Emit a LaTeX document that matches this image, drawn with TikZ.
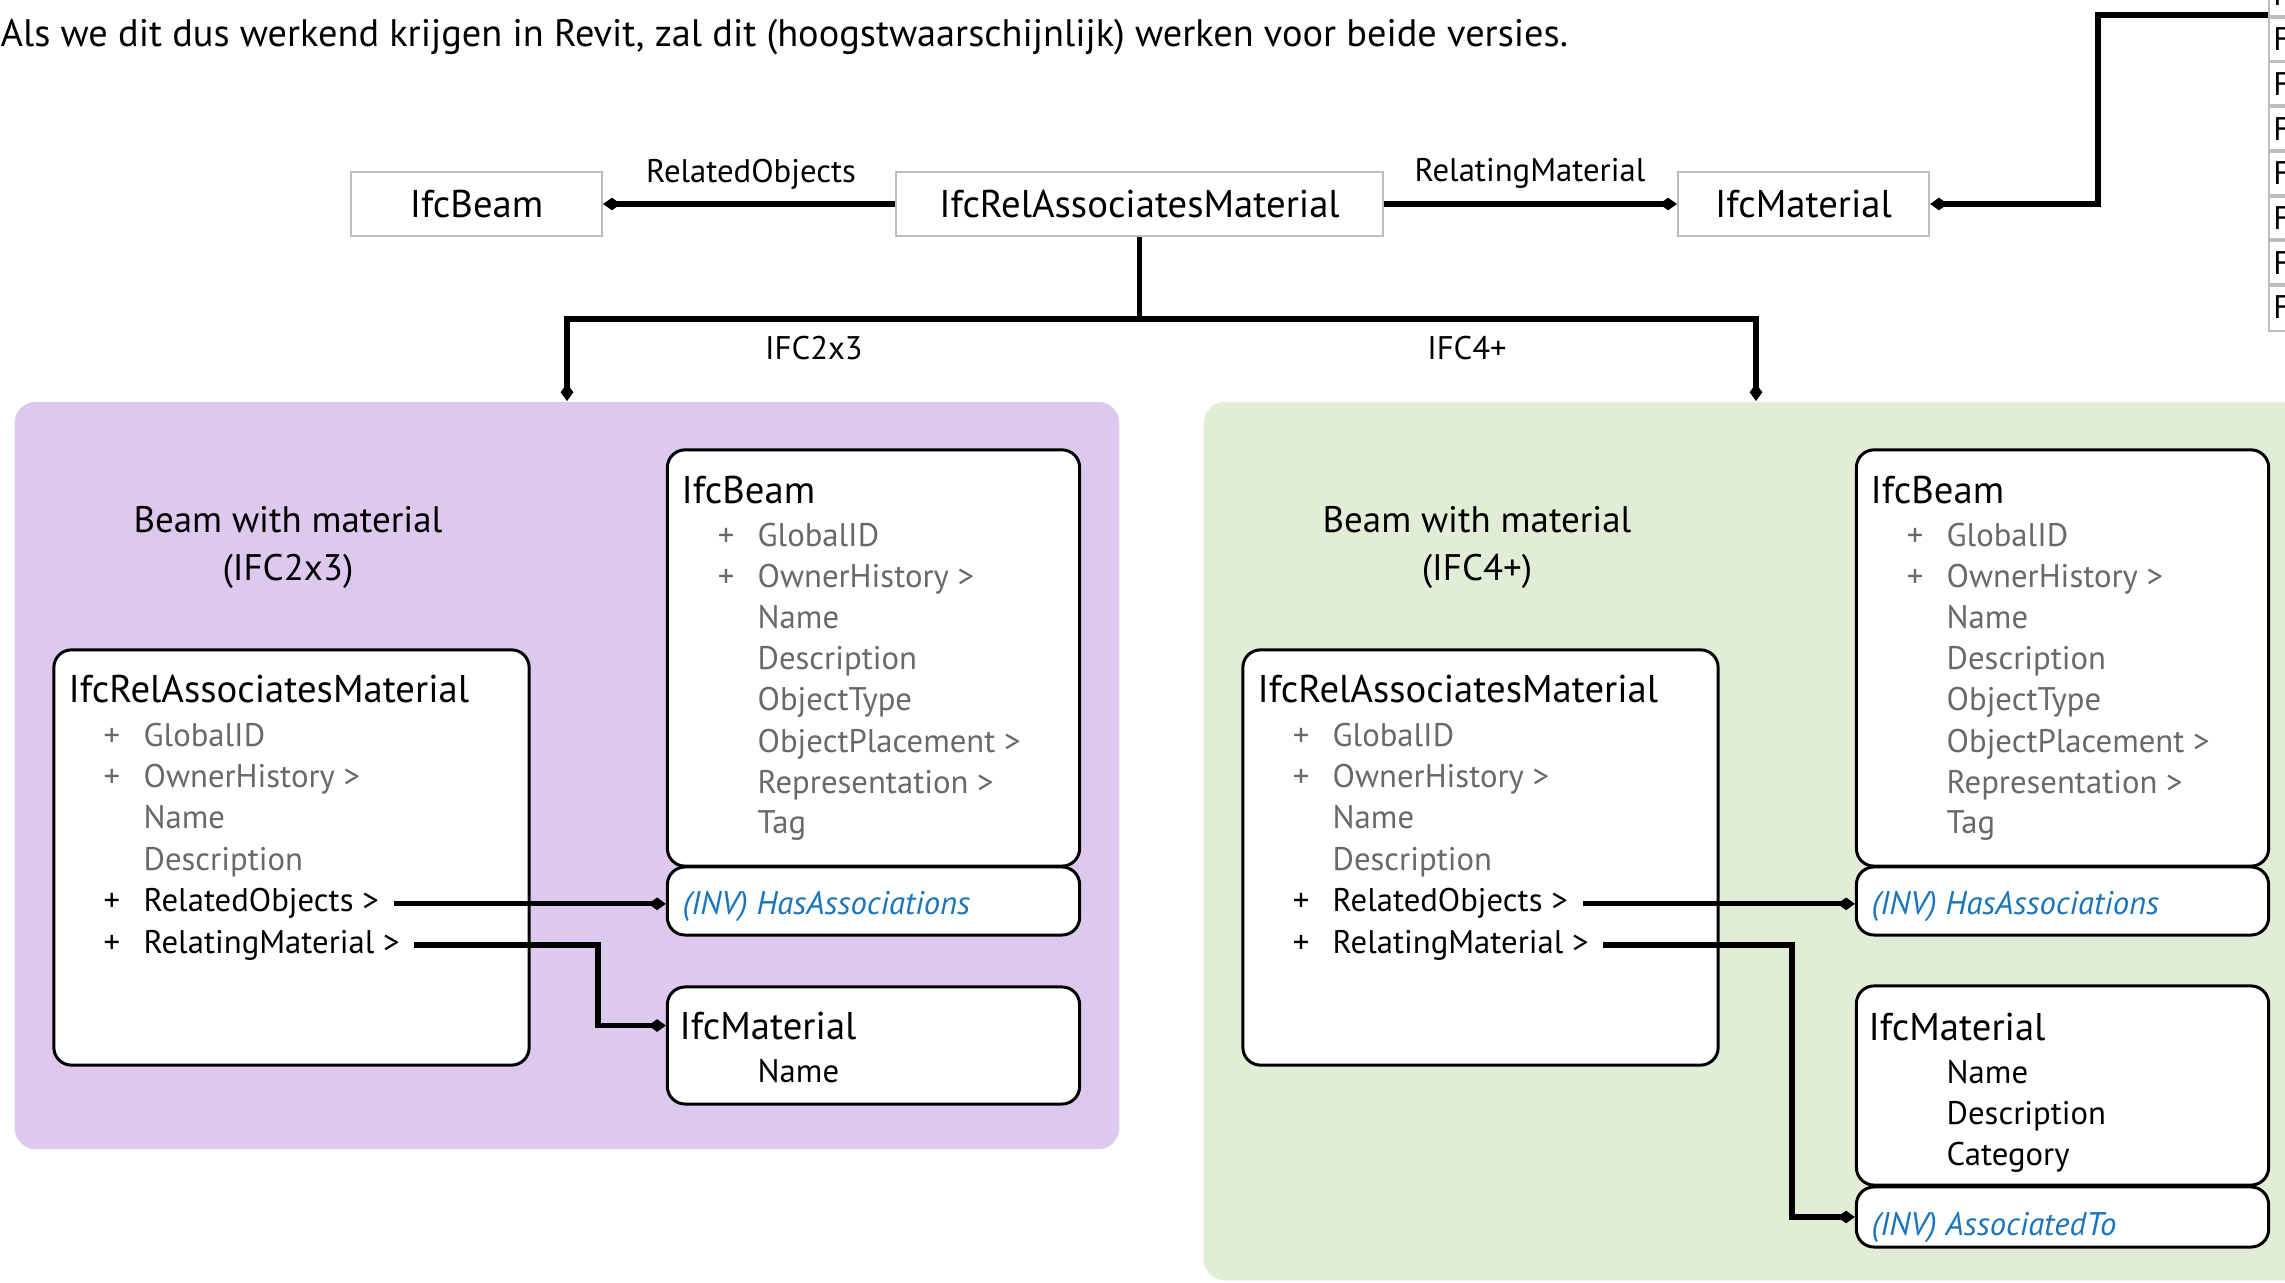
\documentclass[tikz,border=0pt]{standalone}
\usepackage{fontspec}
\setmainfont{PT Sans}
\usepackage{tikz}
\usetikzlibrary{arrows.meta,positioning}
\definecolor{lila}{RGB}{222,201,238}
\definecolor{mint}{RGB}{226,237,215}
\definecolor{attrgray}{RGB}{105,105,105}
\definecolor{invblue}{RGB}{27,117,188}
\definecolor{boxgray}{RGB}{190,190,190}
\def\fsTitle{\fontsize{11pt}{13pt}\selectfont}
\def\fsHead{\fontsize{10.5pt}{13pt}\selectfont}
\def\fsAttr{\fontsize{9.3pt}{11pt}\selectfont}
\def\fsText{\fontsize{9.3pt}{11pt}\selectfont}
\def\fsIntro{\fontsize{10.9pt}{13pt}\selectfont}
\tikzset{
  panel/.style={rounded corners=6pt, inner sep=0pt},
  topbox/.style={draw=boxgray, line width=0.6pt, fill=white, minimum height=0.64cm, inner sep=0pt, font=\fsTitle},
  classbox/.style={draw, line width=0.85pt, rounded corners=5pt, fill=white, inner sep=0pt},
  title/.style={anchor=base west, inner sep=0pt, font=\fsTitle},
  head/.style={anchor=base, inner sep=0pt, font=\fsHead},
  attr/.style={anchor=base west, inner sep=0pt, font=\fsAttr},
  inh/.style={attr, text=attrgray},
  plus/.style={anchor=base, inner sep=0pt, font=\fsAttr},
  inv/.style={attr, text=invblue, font=\fsAttr\itshape},
  lbl/.style={anchor=base, inner sep=0pt, font=\fsText},
  link/.style={line width=1.5pt, line join=miter},
  dia/.tip={Diamond[length=5pt,width=3.6pt]},
  cell/.style={draw=boxgray, line width=0.6pt, anchor=north west, minimum height=0.447cm, text width=1cm, inner xsep=1.2pt, font=\fsText}
}

\begin{document}
\begin{tikzpicture}[x=0.01cm,y=-0.01cm]

    \clip (0,0) rectangle (2285,1283);

    \coordinate (kT) at (2098,15);
    \coordinate (brA) at (567,319);
    \coordinate (brB) at (1756,319);
    \coordinate (kA) at (598,0);
    \coordinate (kB) at (1792,0);

    \node[anchor=base west, inner sep=0pt, font=\fsIntro] (intro) at (0,47)
      {Als we dit dus werkend krijgen in Revit, zal dit (hoogstwaarschijnlijk) werken voor beide versies.};

    %top row
    \node[topbox, minimum width=2.51cm] (BT) at (476.5,204) {IfcBeam};
    \node[topbox, minimum width=4.87cm] (RT) at (1139.5,204) {IfcRelAssociatesMaterial};
    \node[topbox, minimum width=2.51cm] (MT) at (1803.5,204) {IfcMaterial};

    \foreach \i in {0,...,7}
      \node[cell] (F\i) at (2268,{-29.7+44.7*\i}) {F};

    \draw[link, -dia] (RT.west) -- (BT.east);
    \draw[link, -dia] (RT.east) -- (MT.west);
    \draw[link, dia-] (MT.east) -| (kT) -- (F1.north west);

    \node[lbl] (lRO) at (751,183) {RelatedObjects};
    \node[lbl] (lRM) at (1530,182) {RelatingMaterial};

    %panels
    \node[panel, fill=lila, minimum width=11.04cm, minimum height=7.47cm] (PA) at (567,775.5) {};
    \node[panel, fill=mint, minimum width=11.04cm, minimum height=8.78cm] (PB) at (1756,841) {};

    \draw[link, line width=1.3pt] (RT.south) -- (RT.south |- brB);
    \draw[link, dia-dia] (PA.north) |- (brB) -- (PB.north);

    \node[lbl] (lA) at (814,360) {IFC2x3};
    \node[lbl] (lB) at (1467,360) {IFC4+};

    \node[head] (hA1) at (288,533) {Beam with material};
    \node[head] (hA2) at (288,581) {(IFC2x3)};
    \node[head] (hB1) at (1477,533) {Beam with material};
    \node[head] (hB2) at (1477,581) {(IFC4+)};

    %IFC2x3 classes
    \node[classbox, minimum width=4.75cm, minimum height=4.15cm] (RA) at (291.5,857.5) {};
    \node[classbox, minimum width=4.12cm, minimum height=4.16cm] (BA) at (873.5,658) {};
    \node[classbox, minimum width=4.12cm, minimum height=0.68cm] (HA) at (873.5,901) {};
    \node[classbox, minimum width=4.12cm, minimum height=1.17cm] (MA) at (873.5,1045.5) {};

    \node[title] (RAt) at (68,703) {IfcRelAssociatesMaterial};
    \node[plus, text=attrgray] (RAp1) at (112,747) {+};
    \node[inh] (RAa1) at (143,747) {GlobalID};
    \node[plus, text=attrgray] (RAp2) at (112,788) {+};
    \node[inh] (RAa2) at (143,788) {OwnerHistory >};
    \node[inh] (RAa3) at (143,829) {Name};
    \node[inh] (RAa4) at (143,871) {Description};
    \node[plus] (RAp5) at (112,912) {+};
    \node[attr] (RAro) at (143,912) {RelatedObjects >};
    \node[plus] (RAp6) at (112,953) {+};
    \node[attr] (RArm) at (143,953) {RelatingMaterial >};

    \node[title] (BAt) at (681,504) {IfcBeam};
    \node[plus, text=attrgray] (BAp1) at (726,547) {+};
    \node[inh] (BAa1) at (757,547) {GlobalID};
    \node[plus, text=attrgray] (BAp2) at (726,588) {+};
    \node[inh] (BAa2) at (757,588) {OwnerHistory >};
    \node[inh] (BAa3) at (757,629) {Name};
    \node[inh] (BAa4) at (757,670) {Description};
    \node[inh] (BAa5) at (757,711) {ObjectType};
    \node[inh] (BAa6) at (757,753) {ObjectPlacement >};
    \node[inh] (BAa7) at (757,794) {Representation >};
    \node[inh] (BAa8) at (757,834) {Tag};
    \node[inv] (HAt) at (682,915) {(INV) HasAssociations};

    \node[title] (MAt) at (679,1039) {IfcMaterial};
    \node[attr] (MAa1) at (757,1082) {Name};

    \draw[link, -dia] ([xshift=4pt]RAro.east) -- (RAro.east -| HA.west);
    \draw[link, -dia] ([xshift=4pt]RArm.east) -| (kA |- MAt) -- (MA.west |- MAt);

    %IFC4+ classes
    \node[classbox, minimum width=4.75cm, minimum height=4.15cm] (RB) at (1480.5,857.5) {};
    \node[classbox, minimum width=4.12cm, minimum height=4.16cm] (BB) at (2062.5,658) {};
    \node[classbox, minimum width=4.12cm, minimum height=0.68cm] (HB) at (2062.5,901) {};
    \node[classbox, minimum width=4.12cm, minimum height=1.99cm] (MB) at (2062.5,1085.5) {};
    \node[classbox, minimum width=4.12cm, minimum height=0.60cm] (AB) at (2062.5,1217) {};

    \node[title] (RBt) at (1257,703) {IfcRelAssociatesMaterial};
    \node[plus, text=attrgray] (RBp1) at (1301,747) {+};
    \node[inh] (RBa1) at (1332,747) {GlobalID};
    \node[plus, text=attrgray] (RBp2) at (1301,788) {+};
    \node[inh] (RBa2) at (1332,788) {OwnerHistory >};
    \node[inh] (RBa3) at (1332,829) {Name};
    \node[inh] (RBa4) at (1332,871) {Description};
    \node[plus] (RBp5) at (1301,912) {+};
    \node[attr] (RBro) at (1332,912) {RelatedObjects >};
    \node[plus] (RBp6) at (1301,953) {+};
    \node[attr] (RBrm) at (1332,953) {RelatingMaterial >};

    \node[title] (BBt) at (1870,504) {IfcBeam};
    \node[plus, text=attrgray] (BBp1) at (1915,547) {+};
    \node[inh] (BBa1) at (1946,547) {GlobalID};
    \node[plus, text=attrgray] (BBp2) at (1915,588) {+};
    \node[inh] (BBa2) at (1946,588) {OwnerHistory >};
    \node[inh] (BBa3) at (1946,629) {Name};
    \node[inh] (BBa4) at (1946,670) {Description};
    \node[inh] (BBa5) at (1946,711) {ObjectType};
    \node[inh] (BBa6) at (1946,753) {ObjectPlacement >};
    \node[inh] (BBa7) at (1946,794) {Representation >};
    \node[inh] (BBa8) at (1946,834) {Tag};
    \node[inv] (HBt) at (1871,915) {(INV) HasAssociations};

    \node[title] (MBt) at (1868,1040) {IfcMaterial};
    \node[attr] (MBa1) at (1946,1083) {Name};
    \node[attr] (MBa2) at (1946,1124) {Description};
    \node[attr] (MBa3) at (1946,1165) {Category};
    \node[inv] (ABt) at (1871,1235) {(INV) AssociatedTo};

    \draw[link, -dia] ([xshift=4pt]RBro.east) -- (RBro.east -| HB.west);
    \draw[link, -dia] ([xshift=4pt]RBrm.east) -| (kB |- AB.west) -- (AB.west);

\end{tikzpicture}
\end{document}
